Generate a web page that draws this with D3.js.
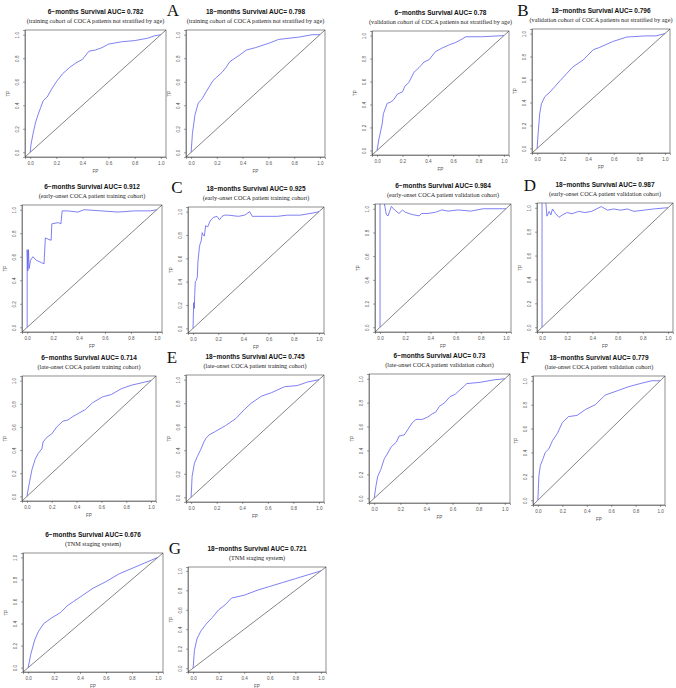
<!DOCTYPE html>
<html>
<head>
<meta charset="utf-8">
<script src="https://cdn.jsdelivr.net/npm/d3@7"></script>
<style>
    body { margin: 0; background: #fff; }
    svg { display: block; }
</style>
</head>
<body>
<div id="chart"></div>
<script>
// ROC curves (FP, TP pairs)
const fpTrain6 = [0, 0.005, 0.02, 0.04, 0.06, 0.08, 0.10, 0.13, 0.16, 0.2, 0.25, 0.3, 0.35, 0.4, 0.45, 0.5, 0.55, 0.6, 0.7, 0.8, 0.9, 0.95, 1];
const tpTrain6 = [0, 0.06, 0.15, 0.25, 0.32, 0.38, 0.44, 0.47, 0.53, 0.60, 0.67, 0.72, 0.76, 0.79, 0.86, 0.87, 0.89, 0.92, 0.94, 0.95, 0.97, 0.99, 1];

const fpTrain18 = [0, 0.01, 0.03, 0.056, 0.082, 0.12, 0.17, 0.2, 0.24, 0.27, 0.30, 0.38, 0.43, 0.5, 0.61, 0.68, 0.84, 0.94, 1];
const tpTrain18 = [0, 0.16, 0.32, 0.42, 0.45, 0.52, 0.61, 0.64, 0.68, 0.72, 0.77, 0.83, 0.87, 0.89, 0.93, 0.96, 0.98, 1.0, 1];

const fpValid6 = [0, 0.013, 0.04, 0.05, 0.08, 0.105, 0.13, 0.16, 0.2, 0.22, 0.25, 0.29, 0.33, 0.37, 0.41, 0.46, 0.51, 0.57, 0.62, 0.67, 0.70, 0.83, 1];
const tpValid6 = [0, 0.09, 0.23, 0.32, 0.41, 0.42, 0.44, 0.49, 0.51, 0.56, 0.59, 0.68, 0.72, 0.77, 0.79, 0.86, 0.89, 0.92, 0.94, 0.97, 0.99, 0.99, 1];

const fpValid18 = [0, 0.008, 0.02, 0.034, 0.06, 0.1, 0.14, 0.18, 0.23, 0.28, 0.36, 0.44, 0.49, 0.59, 0.70, 0.85, 0.93, 1];
const tpValid18 = [0, 0.13, 0.30, 0.39, 0.45, 0.49, 0.54, 0.59, 0.65, 0.71, 0.77, 0.86, 0.88, 0.93, 0.97, 0.98, 0.98, 1];

const fpEarlyTrain6 = [0, 0, 0.005, 0.01, 0.015, 0.026, 0.044, 0.07, 0.11, 0.13, 0.14, 0.16, 0.185, 0.19, 0.24, 0.26, 0.27, 0.31, 0.39, 0.44, 0.57, 0.70, 0.83, 0.95, 1];
const tpEarlyTrain6 = [0, 0.66, 0.48, 0.66, 0.50, 0.57, 0.60, 0.57, 0.55, 0.54, 0.76, 0.75, 0.74, 0.88, 0.89, 0.88, 0.99, 0.99, 0.98, 1.0, 0.99, 0.98, 0.99, 0.99, 1];

const fpEarlyTrain18 = [0, 0.005, 0.01, 0.013, 0.018, 0.026, 0.034, 0.039, 0.05, 0.055, 0.065, 0.073, 0.081, 0.09, 0.1, 0.117, 0.135, 0.16, 0.19, 0.21, 0.23, 0.25, 0.28, 0.36, 0.41, 0.45, 0.47, 0.54, 0.62, 0.67, 0.75, 0.85, 0.96, 1];
const tpEarlyTrain18 = [0, 0.22, 0.17, 0.28, 0.40, 0.41, 0.44, 0.57, 0.69, 0.72, 0.75, 0.82, 0.80, 0.79, 0.88, 0.87, 0.92, 0.95, 0.96, 0.93, 0.96, 0.97, 0.97, 0.96, 0.97, 1.0, 0.96, 0.96, 0.96, 0.96, 0.97, 0.97, 0.99, 1];

const fpEarlyValid6 = [0, 0, 0.025, 0.05, 0.064, 0.077, 0.09, 0.115, 0.15, 0.18, 0.2, 0.26, 0.31, 0.33, 0.38, 0.44, 0.49, 0.54, 0.62, 0.72, 0.82, 0.97, 1];
const tpEarlyValid6 = [0, 1.1, 1.1, 0.95, 0.94, 0.98, 1.02, 0.99, 0.96, 0.99, 0.97, 0.95, 0.94, 0.96, 0.96, 0.97, 0.99, 0.98, 0.99, 0.98, 1.0, 1.0, 1];

const fpEarlyValid18 = [0, 0, 0.026, 0.039, 0.057, 0.07, 0.083, 0.096, 0.109, 0.135, 0.16, 0.2, 0.238, 0.29, 0.34, 0.393, 0.47, 0.52, 0.57, 0.625, 0.677, 0.73, 0.806, 0.884, 0.99, 1];
const tpEarlyValid18 = [0, 1.1, 1.1, 0.93, 0.97, 0.94, 0.99, 0.97, 0.95, 0.92, 0.94, 0.96, 0.95, 0.97, 0.96, 0.97, 1.01, 0.98, 0.99, 0.98, 0.99, 0.97, 0.98, 0.99, 1.0, 1];

const fpLateTrain6 = [0, 0.013, 0.04, 0.066, 0.09, 0.12, 0.13, 0.16, 0.2, 0.24, 0.29, 0.33, 0.37, 0.42, 0.47, 0.53, 0.61, 0.68, 0.76, 0.84, 0.92, 1];
const tpLateTrain6 = [0, 0.08, 0.23, 0.32, 0.37, 0.41, 0.47, 0.51, 0.54, 0.60, 0.65, 0.66, 0.69, 0.72, 0.75, 0.81, 0.86, 0.88, 0.93, 0.96, 0.98, 1];

const fpLateTrain18 = [0, 0.008, 0.026, 0.05, 0.077, 0.10, 0.115, 0.14, 0.19, 0.27, 0.35, 0.42, 0.47, 0.55, 0.63, 0.73, 0.83, 0.91, 1];
const tpLateTrain18 = [0, 0.18, 0.29, 0.35, 0.41, 0.47, 0.50, 0.53, 0.56, 0.61, 0.67, 0.75, 0.80, 0.86, 0.89, 0.94, 0.95, 0.98, 1];

const fpLateValid6 = [0, 0.013, 0.026, 0.05, 0.077, 0.10, 0.13, 0.17, 0.19, 0.23, 0.26, 0.29, 0.32, 0.37, 0.41, 0.45, 0.47, 0.5, 0.54, 0.58, 0.62, 0.65, 0.71, 0.81, 0.91, 1];
const tpLateValid6 = [0, 0.10, 0.18, 0.24, 0.33, 0.37, 0.43, 0.47, 0.52, 0.53, 0.58, 0.63, 0.66, 0.66, 0.68, 0.71, 0.72, 0.77, 0.80, 0.85, 0.87, 0.90, 0.96, 0.97, 0.99, 1];

const fpLateValid18 = [0, 0.008, 0.02, 0.043, 0.06, 0.09, 0.12, 0.16, 0.2, 0.25, 0.32, 0.39, 0.47, 0.55, 0.66, 0.74, 0.85, 0.93, 1];
const tpLateValid18 = [0, 0.20, 0.29, 0.35, 0.40, 0.43, 0.50, 0.56, 0.65, 0.70, 0.71, 0.76, 0.80, 0.88, 0.92, 0.95, 0.98, 1.0, 1];

const fpTnm6 = [0, 0.02, 0.05, 0.08, 0.12, 0.18, 0.25, 0.3, 0.35, 0.4, 0.5, 0.6, 0.7, 0.8, 0.9, 1];
const tpTnm6 = [0, 0.12, 0.25, 0.33, 0.40, 0.45, 0.50, 0.56, 0.60, 0.64, 0.72, 0.78, 0.85, 0.90, 0.95, 1];

const fpTnm18 = [0, 0.01, 0.03, 0.06, 0.1, 0.15, 0.2, 0.25, 0.3, 0.4, 0.5, 0.6, 0.7, 0.8, 0.9, 1];
const tpTnm18 = [0, 0.18, 0.30, 0.38, 0.45, 0.52, 0.60, 0.65, 0.72, 0.75, 0.80, 0.84, 0.88, 0.92, 0.96, 1];

const titles = [
    "6\u2212months Survival AUC= 0.782", "18\u2212months Survival AUC= 0.798",
    "6\u2212months Survival AUC= 0.78", "18\u2212months Survival AUC= 0.796",
    "6\u2212months Survival AUC= 0.912", "18\u2212months Survival AUC= 0.925",
    "6\u2212months Survival AUC= 0.984", "18\u2212months Survival AUC= 0.987",
    "6\u2212months Survival AUC= 0.714", "18\u2212months Survival AUC= 0.745",
    "6\u2212months Survival AUC= 0.73", "18\u2212months Survival AUC= 0.779",
    "6\u2212months Survival AUC= 0.676", "18\u2212months Survival AUC= 0.721"
];
const subtitles = [
    "(training cohort of COCA patients not stratified by age)", "(training cohort of COCA patients not stratified by age)",
    "(validation cohort of COCA patients not stratified by age)", "(validation cohort of COCA patients not stratified by age)",
    "(early-onset COCA patient training cohort)", "(early-onset COCA patient training cohort)",
    "(early-onset COCA patient validation cohort)", "(early-onset COCA patient validation cohort)",
    "(late-onset COCA patient training cohort)", "(late-onset COCA patient training cohort)",
    "(late-onset COCA patient validation cohort)", "(late-onset COCA patient validation cohort)",
    "(TNM staging system)", "(TNM staging system)"
];
const panelLetters = ["A", "B", "C", "D", "E", "F", "G"];
const tickValues = [0, 0.2, 0.4, 0.6, 0.8, 1.0];
const tickLabels = ["0.0", "0.2", "0.4", "0.6", "0.8", "1.0"];

const curves = [
    [fpTrain6, tpTrain6], [fpTrain18, tpTrain18],
    [fpValid6, tpValid6], [fpValid18, tpValid18],
    [fpEarlyTrain6, tpEarlyTrain6], [fpEarlyTrain18, tpEarlyTrain18],
    [fpEarlyValid6, tpEarlyValid6], [fpEarlyValid18, tpEarlyValid18],
    [fpLateTrain6, tpLateTrain6], [fpLateTrain18, tpLateTrain18],
    [fpLateValid6, tpLateValid6], [fpLateValid18, tpLateValid18],
    [fpTnm6, tpTnm6], [fpTnm18, tpTnm18]
];

// frame of each plot region: x0, y0, x1, y1 (the panels were pasted in by hand, so they differ a bit)
const boxes = [
    [25, 30, 166, 157], [186, 30, 325, 157], [372, 31, 509, 155], [532, 29, 670, 153],
    [22, 205, 162, 332], [188, 207, 324, 333], [375, 204, 511, 332], [537, 203, 673, 332],
    [22, 376, 156, 501], [186, 375, 324, 502], [369, 374, 510, 503], [533, 376, 665, 505],
    [23, 553, 163, 672], [188, 567, 326, 672]
];
// where the panel letters sit
const letterPos = [[173, 16], [523, 16], [177, 193], [530, 191], [172, 363], [525, 363], [175, 554]];

const W = 676, H = 688;
const svg = d3.select("#chart").append("svg")
    .attr("width", W)
    .attr("height", H)
    .style("font-family", "'Liberation Sans', Arial, sans-serif");

const curveColor = "#5f5ff0";
const axisGrey = "#444";

boxes.forEach((b, i) => {
    const [x0, y0, x1, y1] = b;
    // R pads the data range by 4% on each side
    const x = d3.scaleLinear().domain([-0.04, 1.04]).range([x0, x1]);
    const y = d3.scaleLinear().domain([-0.04, 1.04]).range([y1, y0]);

    const g = svg.append("g").attr("class", "panel");

    g.append("clipPath").attr("id", "clip" + i)
        .append("rect")
        .attr("x", x0).attr("y", y0)
        .attr("width", x1 - x0).attr("height", y1 - y0);

    // chance line (abline 0,1 runs across the whole region)
    g.append("line")
        .attr("x1", x(-0.04)).attr("y1", y(-0.04))
        .attr("x2", x(1.04)).attr("y2", y(1.04))
        .attr("stroke", "#333")
        .attr("stroke-width", 0.6);

    const [fp, tp] = curves[i];
    const pts = fp.map((v, k) => [v, tp[k]]);
    const line = d3.line().x(d => x(d[0])).y(d => y(d[1]));
    g.append("path")
        .attr("clip-path", "url(#clip" + i + ")")
        .attr("d", line(pts))
        .attr("fill", "none")
        .attr("stroke", curveColor)
        .attr("stroke-width", 0.8);

    // frame
    g.append("rect")
        .attr("x", x0).attr("y", y0)
        .attr("width", x1 - x0).attr("height", y1 - y0)
        .attr("fill", "none")
        .attr("stroke", axisGrey)
        .attr("stroke-width", 0.6);

    // axes
    const xAxis = d3.axisBottom(x).tickValues(tickValues)
        .tickFormat((d, k) => tickLabels[k]).tickSizeOuter(0).tickSize(2).tickPadding(2.5);
    const yAxis = d3.axisLeft(y).tickValues(tickValues)
        .tickFormat((d, k) => tickLabels[k]).tickSizeOuter(0).tickSize(2).tickPadding(2.5);

    const gx = g.append("g").attr("transform", `translate(0,${y1})`).call(xAxis);
    const gy = g.append("g").attr("transform", `translate(${x0},0)`).call(yAxis);
    [gx, gy].forEach(a => {
        a.select(".domain").attr("stroke", axisGrey).attr("stroke-width", 0.5);
        a.selectAll(".tick line").attr("stroke", axisGrey).attr("stroke-width", 0.5);
        a.selectAll(".tick text")
            .attr("fill", "#555")
            .style("font-size", "4.6px")
            .style("font-family", "'Liberation Sans', Arial, sans-serif");
    });
    // y labels run along the axis like in R
    gy.selectAll(".tick text")
        .attr("x", null).attr("dy", null)
        .attr("text-anchor", "middle")
        .attr("transform", "translate(-6,0) rotate(-90)");

    // axis titles
    g.append("text")
        .attr("x", (x0 + x1) / 2).attr("y", y1 + 16)
        .attr("text-anchor", "middle")
        .attr("fill", "#555")
        .style("font-size", "4.6px")
        .text("FP");
    g.append("text")
        .attr("transform", `translate(${x0 - 15},${(y0 + y1) / 2}) rotate(-90)`)
        .attr("text-anchor", "middle")
        .attr("fill", "#555")
        .style("font-size", "4.6px")
        .text("TP");

    // title + subtitle
    g.append("text")
        .attr("x", (x0 + x1) / 2).attr("y", y0 - 16)
        .attr("text-anchor", "middle")
        .attr("fill", "#111")
        .style("font-size", "6.5px")
        .style("font-weight", "bold")
        .text(titles[i]);
    g.append("text")
        .attr("x", (x0 + x1) / 2).attr("y", y0 - 7)
        .attr("text-anchor", "middle")
        .attr("fill", "#222")
        .style("font-size", "6.2px")
        .style("font-family", "'Liberation Serif', 'Times New Roman', serif")
        .text(subtitles[i]);
});

// panel letters
svg.selectAll(".letter")
    .data(panelLetters)
    .join("text")
    .attr("class", "letter")
    .attr("x", (d, i) => letterPos[i][0])
    .attr("y", (d, i) => letterPos[i][1])
    .attr("text-anchor", "middle")
    .attr("fill", "#111")
    .style("font-family", "'Liberation Serif', 'Times New Roman', serif")
    .style("font-size", "17px")
    .text(d => d);
</script>
</body>
</html>
